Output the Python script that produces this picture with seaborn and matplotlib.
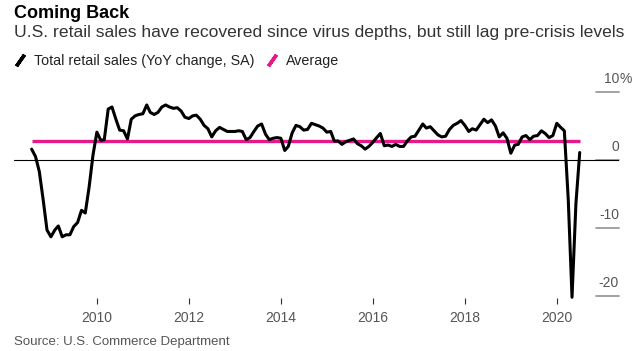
import numpy as np
import pandas as pd
import matplotlib
matplotlib.use("Agg")
from matplotlib import pyplot as plt
from matplotlib.lines import Line2D
import matplotlib.transforms as mtransforms
import seaborn as sns

# monthly YoY change in total retail sales (%), Jul 2008 - Jun 2020
yoy_change = [
    1.6, 0.5, -1.7, -5.9, -10.3, -11.3,                            # 2008 Jul-Dec
    -10.3, -9.7, -11.3, -11.0, -11.0, -9.8, -9.2, -7.4, -7.8, -3.9, 0.7, 4.1,   # 2009
    2.9, 3.0, 7.5, 7.8, 6.0, 4.4, 4.3, 3.1, 6.0, 6.5, 6.7, 6.8,    # 2010
    8.1, 7.0, 6.7, 7.0, 7.8, 8.1, 7.8, 7.6, 7.7, 7.2, 6.3, 6.1,    # 2011
    6.5, 6.6, 6.0, 5.1, 4.6, 3.4, 4.3, 4.8, 4.5, 4.2, 4.2, 4.2,    # 2012
    4.3, 4.2, 3.0, 3.3, 4.2, 5.0, 5.3, 3.8, 3.0, 3.2, 3.3, 3.2,    # 2013
    1.4, 2.0, 4.0, 5.1, 4.9, 4.4, 4.5, 5.4, 5.2, 5.0, 4.7, 4.1,    # 2014
    4.2, 2.8, 2.8, 2.3, 2.7, 2.9, 3.1, 2.4, 2.1, 1.6, 2.0, 2.6,    # 2015
    3.3, 3.9, 2.1, 2.2, 2.0, 2.3, 2.0, 2.0, 2.8, 3.4, 3.5, 4.4,    # 2016
    5.3, 4.7, 4.9, 4.3, 3.7, 3.4, 3.5, 4.5, 5.1, 5.4, 5.8, 5.1,    # 2017
    4.2, 4.6, 4.4, 5.2, 6.0, 5.5, 5.9, 5.0, 3.4, 4.0, 3.2, 1.0,    # 2018
    2.2, 2.3, 3.4, 3.6, 3.0, 3.5, 3.6, 4.3, 3.9, 3.3, 3.6, 5.4,    # 2019
    4.8, 4.3, -5.8, -20.2, -6.4, 1.1,                              # 2020 Jan-Jun
]
average = 2.75
months = pd.date_range("2008-07-31", periods=len(yoy_change), freq="ME")
year_ticks = [2010, 2012, 2014, 2016, 2018, 2020]
y_ticks = [10, 0, -10, -20]

df = pd.DataFrame({"date": months, "yoy": yoy_change})

sns.set_theme(style="white")
plt.rcParams["font.family"] = ["Liberation Sans", "DejaVu Sans"]

pink = "#e5198a"
grey = "#555555"

fig = plt.figure(figsize=(6.41, 3.51), dpi=100)
ax = fig.add_axes([14 / 641, 53 / 351, 605 / 641, 211.4 / 351])

sns.lineplot(data=df, x="date", y="yoy", ax=ax, color="black", lw=2.2,
             clip_on=False, zorder=4)
ax.hlines(average, months[0], months[-1], color=pink, lw=2.4, zorder=3)
ax.axhline(0, color="black", lw=0.8, zorder=2)

ax.set_xlim(pd.Timestamp("2008-03-13"), pd.Timestamp("2021-05-08"))
ax.set_ylim(-20.3, 10.8)
sns.despine(ax=ax, left=True, bottom=True, right=True, top=True)
ax.set_xlabel("")
ax.set_ylabel("")

ax.set_xticks([pd.Timestamp(f"{y}-01-01") for y in year_ticks])
ax.set_xticklabels([str(y) for y in year_ticks], fontsize=10, color=grey)
ax.tick_params(axis="x", bottom=True, length=4, width=0.8, color="#333333", pad=5)
ax.set_yticks([])

# right-hand value labels sitting on short grey stubs
trans = mtransforms.blended_transform_factory(ax.transAxes, ax.transData)
for v in y_ticks:
    ax.plot([0.962, 1.0], [v, v], color="#9a9a9a", lw=1.3, transform=trans,
            clip_on=False, zorder=1)
    ax.annotate("10" if v == 10 else str(v), (1.0, v), xycoords=trans,
                xytext=(0, 4), textcoords="offset points",
                ha="right", va="bottom", fontsize=10, color=grey)
    if v == 10:
        ax.annotate("%", (1.0, v), xycoords=trans, xytext=(0, 4),
                    textcoords="offset points", ha="left", va="bottom",
                    fontsize=10, color=grey)

fig.text(14 / 641, 1 - 5 / 351, "Coming Back", fontsize=13, fontweight="bold",
         ha="left", va="top", color="black")
fig.text(14 / 641, 1 - 25 / 351,
         "U.S. retail sales have recovered since virus depths, but still lag pre-crisis levels",
         fontsize=12.6, ha="left", va="top", color="#333333")

handles = [
    Line2D([], [], color="black", ls="none", marker=(2, 2, -35), markersize=10,
           markeredgewidth=2.5, label="Total retail sales (YoY change, SA)"),
    Line2D([], [], color=pink, ls="none", marker=(2, 2, -35), markersize=10,
           markeredgewidth=2.5, label="Average"),
]
fig.legend(handles=handles, loc="center left", bbox_to_anchor=(11 / 641, 1 - 61 / 351),
           ncol=2, frameon=False, fontsize=10.3, handlelength=1.2, handletextpad=0.4,
           columnspacing=0.6, borderpad=0, borderaxespad=0, labelcolor="#222222")

fig.text(14 / 641, 1 - 342 / 351, "Source: U.S. Commerce Department",
         fontsize=9.5, ha="left", va="center", color=grey)

fig.savefig("out.png", dpi=100)
